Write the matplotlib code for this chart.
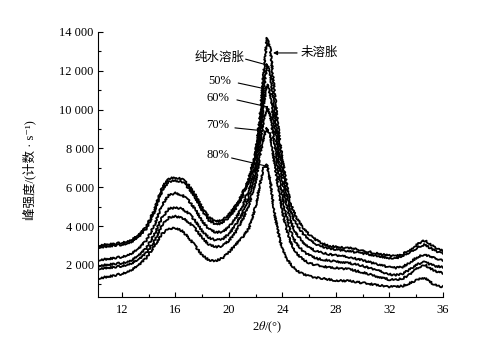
import numpy as np
import matplotlib.pyplot as plt
from matplotlib.ticker import MultipleLocator, FuncFormatter

plt.rcParams['font.family'] = ['Liberation Serif', 'Noto Sans CJK SC', 'DejaVu Sans']
plt.rcParams['mathtext.fontset'] = 'stix'

two_theta = [10.2, 10.8, 11.4, 12.0, 12.6, 13.2, 13.8, 14.4, 15.0, 15.5,
             16.0, 16.5, 17.0, 17.5, 18.0, 18.5, 19.0, 19.5, 20.0, 20.5,
             21.0, 21.5, 22.0, 22.3, 22.6, 22.85, 23.1, 23.4, 23.8, 24.2,
             24.6, 25.0, 25.5, 26.0, 26.5, 27.0, 27.5, 28.0, 29.0, 30.0,
             31.0, 32.0, 32.5, 33.0, 33.5, 34.0, 34.4, 34.7, 35.0, 35.4,
             35.7, 36.0]

# peak intensity (counts/s)
unswollen = [3000, 3050, 3080, 3150, 3250, 3500, 3950, 4800, 6000, 6450,
             6500, 6420, 6100, 5600, 4950, 4450, 4250, 4280, 4600, 5050,
             5650, 6500, 7800, 9500, 11800, 13700, 13100, 11000, 8400, 6600,
             5200, 4500, 3950, 3550, 3300, 3100, 2980, 2930, 2880, 2750,
             2600, 2480, 2450, 2550, 2750, 3000, 3200, 3250, 3100, 2900,
             2800, 2750]
water = [2900, 2950, 3000, 3050, 3150, 3400, 3850, 4700, 5850, 6300,
         6350, 6280, 5950, 5450, 4800, 4300, 4100, 4150, 4450, 4900,
         5500, 6350, 7600, 9000, 11000, 12350, 11800, 10000, 7800, 6100,
         4800, 4150, 3650, 3300, 3080, 2950, 2850, 2800, 2700, 2600,
         2480, 2360, 2350, 2450, 2650, 2850, 3000, 3050, 2900, 2750,
         2650, 2600]
pct50 = [2250, 2300, 2350, 2420, 2550, 2800, 3250, 4000, 5100, 5600,
         5700, 5600, 5300, 4850, 4250, 3850, 3680, 3700, 3950, 4400,
         5000, 5900, 7200, 8600, 10300, 11300, 10800, 9200, 7100, 5500,
         4300, 3650, 3200, 2900, 2720, 2620, 2550, 2500, 2400, 2250,
         2050, 1880, 1850, 1900, 2100, 2350, 2500, 2520, 2450, 2350,
         2300, 2260]
pct60 = [1950, 2000, 2050, 2100, 2200, 2450, 2850, 3550, 4450, 4900,
         4950, 4900, 4650, 4250, 3750, 3400, 3280, 3320, 3600, 4050,
         4650, 5500, 6800, 8100, 9500, 10150, 9700, 8300, 6300, 4800,
         3750, 3150, 2750, 2500, 2350, 2280, 2220, 2180, 2100, 1950,
         1750, 1520, 1480, 1550, 1750, 1980, 2120, 2150, 2050, 1950,
         1920, 1900]
pct70 = [1800, 1850, 1880, 1950, 2050, 2250, 2600, 3200, 4050, 4450,
         4500, 4430, 4200, 3850, 3400, 3050, 2930, 2970, 3250, 3700,
         4300, 5100, 6300, 7500, 8600, 9050, 8700, 7300, 5500, 4100,
         3200, 2650, 2300, 2100, 2000, 1930, 1880, 1850, 1780, 1620,
         1420, 1250, 1230, 1300, 1500, 1780, 1950, 2000, 1850, 1700,
         1630, 1590]
pct80 = [1300, 1380, 1450, 1550, 1700, 1950, 2350, 2950, 3600, 3880,
         3900, 3750, 3400, 2950, 2500, 2250, 2200, 2350, 2650, 3050,
         3400, 3900, 5000, 6100, 7000, 7150, 6300, 4700, 3300, 2450,
         2050, 1750, 1550, 1420, 1350, 1300, 1250, 1200, 1180, 1080,
         980, 880, 870, 920, 1050, 1200, 1320, 1330, 1150, 980,
         900, 870]

series = [unswollen, water, pct50, pct60, pct70, pct80]

fig = plt.figure(figsize=(4.82, 3.48), dpi=100)
ax = fig.add_axes([0.2033, 0.1466, 0.7151, 0.7615])

for ys in series:
    line, = ax.plot(two_theta, ys, color='black', lw=1.3)
    line.set_sketch_params(scale=0.9, length=2.0, randomness=3.0)

ax.set_xlim(10.2, 36)
ax.set_ylim(350, 14000)
ax.spines['top'].set_visible(False)
ax.spines['right'].set_visible(False)
ax.xaxis.set_major_locator(MultipleLocator(4))
ax.xaxis.set_minor_locator(MultipleLocator(2))
ax.yaxis.set_major_locator(MultipleLocator(2000))
ax.yaxis.set_minor_locator(MultipleLocator(1000))
ax.set_xticks([12, 16, 20, 24, 28, 32, 36])
ax.set_yticks([2000, 4000, 6000, 8000, 10000, 12000, 14000])
ax.yaxis.set_major_formatter(FuncFormatter(lambda v, p: f'{int(v):,}'.replace(',', ' ')))
ax.tick_params(which='major', direction='in', length=3.5, width=0.8, labelsize=9)
ax.tick_params(which='minor', direction='in', length=2, width=0.8)
ax.tick_params(axis='x', pad=5)
ax.tick_params(axis='y', pad=3)

ax.set_xlabel(r'2$\theta$/(°)', fontsize=9)
ax.xaxis.set_label_coords(0.49, -0.085)
ax.set_ylabel('峰强度/(计数 · s⁻¹)', fontsize=9)
ax.yaxis.set_label_coords(-0.18, 0.48)

lbl = dict(fontsize=9, va='center')
line_kw = dict(arrowstyle='-', lw=0.8, color='black', shrinkA=0, shrinkB=0)

ax.text(21.15, 12700, '纯水溶胀', ha='right', **lbl)
ax.annotate('', xy=(22.85, 12300), xytext=(21.25, 12600), arrowprops=line_kw)

ax.text(25.35, 12920, '未溶胀', ha='left', **lbl)
ax.annotate('', xy=(23.3, 12920), xytext=(25.1, 12920),
            arrowprops=dict(arrowstyle='-|>', lw=0.8, color='black',
                            mutation_scale=6, shrinkA=0, shrinkB=0))

ax.text(20.15, 11480, '50%', ha='right', **lbl)
ax.annotate('', xy=(22.75, 11065), xytext=(20.7, 11370), arrowprops=line_kw)

ax.text(20.05, 10600, '60%', ha='right', **lbl)
ax.annotate('', xy=(22.9, 10140), xytext=(20.6, 10500), arrowprops=line_kw)

ax.text(20.05, 9210, '70%', ha='right', **lbl)
ax.annotate('', xy=(22.7, 8900), xytext=(20.45, 9060), arrowprops=line_kw)

ax.text(20.0, 7670, '80%', ha='right', **lbl)
ax.annotate('', xy=(22.75, 7100), xytext=(20.2, 7510), arrowprops=line_kw)

fig.savefig('out.png', dpi=100)
